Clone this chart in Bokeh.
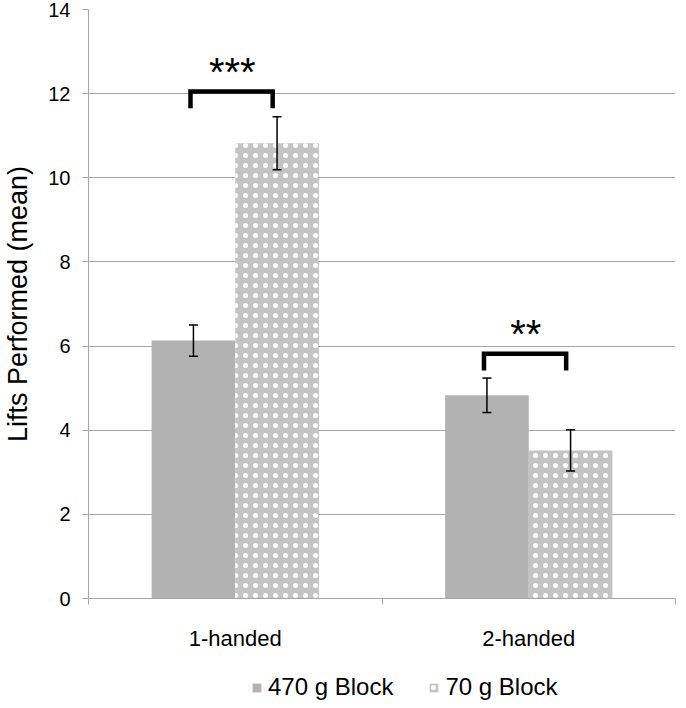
from bokeh.plotting import figure
from bokeh.layouts import column
from bokeh.models import (ColumnDataSource, FixedTicker, Whisker, TeeHead, Legend,
                          LegendItem, Range1d)
from bokeh.core.properties import value
from bokeh.embed import file_html
from bokeh.resources import INLINE

# ---- data ----
categories = ["1-handed", "2-handed"]
block_470 = [6.13, 4.83]
block_470_err = [0.37, 0.41]
block_70 = [10.82, 3.52]
block_70_err = [0.63, 0.49]
series_names = ["470 g Block", "70 g Block"]
sig_labels = ["***", "**"]
sig_height = [12.05, 5.82]
y_ticks = [0, 2, 4, 6, 8, 10, 12, 14]

FONT = "Liberation Sans"
BAR_W = 0.285
GRAY = "#b2b2b2"
HATCH_BG = "#c4c4c4"
AXIS_GRAY = "#a6a6a6"

idx = list(range(len(categories)))
centers = [i + 0.5 for i in idx]
x470 = [c - BAR_W / 2 for c in centers]
x70 = [c + BAR_W / 2 for c in centers]

src470 = ColumnDataSource(dict(x=x470, top=block_470,
                               upper=[v + e for v, e in zip(block_470, block_470_err)],
                               lower=[v - e for v, e in zip(block_470, block_470_err)]))
src70 = ColumnDataSource(dict(x=x70, top=block_70,
                              upper=[v + e for v, e in zip(block_70, block_70_err)],
                              lower=[v - e for v, e in zip(block_70, block_70_err)]))

p = figure(frame_width=587, frame_height=589, output_backend="svg", toolbar_location=None,
           x_range=Range1d(0, len(categories)), y_range=Range1d(0, 14),
           min_border_left=81, min_border_right=2, min_border_top=9, min_border_bottom=57)
p.outline_line_color = None
p.background_fill_color = "white"
p.border_fill_color = "white"

bar_style470 = dict(fill_color=GRAY, line_color=None)
bar_style70 = dict(fill_color=HATCH_BG, line_color=None, hatch_pattern="dot",
                   hatch_color="white", hatch_scale=10, hatch_weight=1.6)

p.vbar(x="x", top="top", width=BAR_W, bottom=0, source=src470, **bar_style470)
p.vbar(x="x", top="top", width=BAR_W, bottom=0, source=src70, **bar_style70)

for s in (src470, src70):
    p.add_layout(Whisker(source=s, base="x", upper="upper", lower="lower",
                         line_color="black", line_width=1.5, level="overlay",
                         upper_head=TeeHead(size=9, line_width=1.5, line_color="black"),
                         lower_head=TeeHead(size=9, line_width=1.5, line_color="black")))

# significance brackets
br_xs, br_ys = [], []
for i, h in zip(idx, sig_height):
    l = x470[i] - 0.01
    r = x70[i] - 0.015
    br_xs.append([l, l, r, r])
    br_ys.append([h - 0.4, h, h, h - 0.4])
p.multi_line(xs=br_xs, ys=br_ys, line_color="black", line_width=4.5, line_join="miter")

txt_src = ColumnDataSource(dict(x=[c - 0.01 for c in centers],
                                y=[h - 0.06 for h in sig_height], t=sig_labels))
p.text(x="x", y="y", text="t", source=txt_src, text_font=value(FONT),
       text_font_size="40px", text_align="center", text_baseline="bottom",
       text_color="black")

# grid
p.xgrid.grid_line_color = None
p.ygrid.grid_line_color = AXIS_GRAY
p.ygrid.grid_line_width = 1
p.ygrid.ticker = FixedTicker(ticks=y_ticks)

# y axis
ya = p.yaxis[0]
ya.ticker = FixedTicker(ticks=y_ticks, minor_ticks=[])
ya.axis_line_color = AXIS_GRAY
ya.major_tick_line_color = AXIS_GRAY
ya.major_tick_out = 6
ya.major_tick_in = 0
ya.minor_tick_line_color = None
ya.major_label_text_font = FONT
ya.major_label_text_font_size = "20px"
ya.major_label_text_color = "black"
ya.major_label_standoff = 12
ya.axis_label = "Lifts Performed (mean)"
ya.axis_label_text_font = FONT
ya.axis_label_text_font_size = "27px"
ya.axis_label_text_font_style = "normal"
ya.axis_label_text_color = "black"
ya.axis_label_standoff = 12

# x axis
xa = p.xaxis[0]
xa.ticker = FixedTicker(ticks=centers, minor_ticks=[float(i) for i in range(len(categories) + 1)])
xa.major_label_overrides = {c: n for c, n in zip(centers, categories)}
xa.axis_line_color = AXIS_GRAY
xa.major_tick_line_color = None
xa.major_tick_out = 0
xa.major_tick_in = 0
xa.minor_tick_line_color = AXIS_GRAY
xa.minor_tick_out = 6
xa.minor_tick_in = 0
xa.major_label_text_font = FONT
xa.major_label_text_font_size = "22px"
xa.major_label_text_color = "black"
xa.major_label_standoff = 21

# legend strip (separate figure below the chart); its renderers are hidden
leg = figure(width=670, height=46, output_backend="svg", toolbar_location=None,
             x_axis_type=None, y_axis_type=None, x_range=Range1d(0, 1), y_range=Range1d(0, 1),
             min_border=0)
leg.outline_line_color = None
leg.xgrid.visible = False
leg.ygrid.visible = False
l470 = leg.vbar(x="x", top="top", width=BAR_W, source=src470, visible=False, **bar_style470)
l70 = leg.vbar(x="x", top="top", width=BAR_W, source=src70, visible=False, **bar_style70)
legend = Legend(items=[LegendItem(label=series_names[0], renderers=[l470]),
                       LegendItem(label=series_names[1], renderers=[l70])],
                orientation="horizontal", location=(163, 0),
                label_text_font=FONT, label_text_font_size="24px", label_text_color="black",
                glyph_width=11, glyph_height=11, label_standoff=6, spacing=35,
                border_line_color=None, background_fill_alpha=0,
                inactive_fill_alpha=0,
                margin=0, padding=0)
leg.add_layout(legend, "center")

layout = column(p, leg, spacing=0)
open("out.html", "w").write(file_html(layout, INLINE))
